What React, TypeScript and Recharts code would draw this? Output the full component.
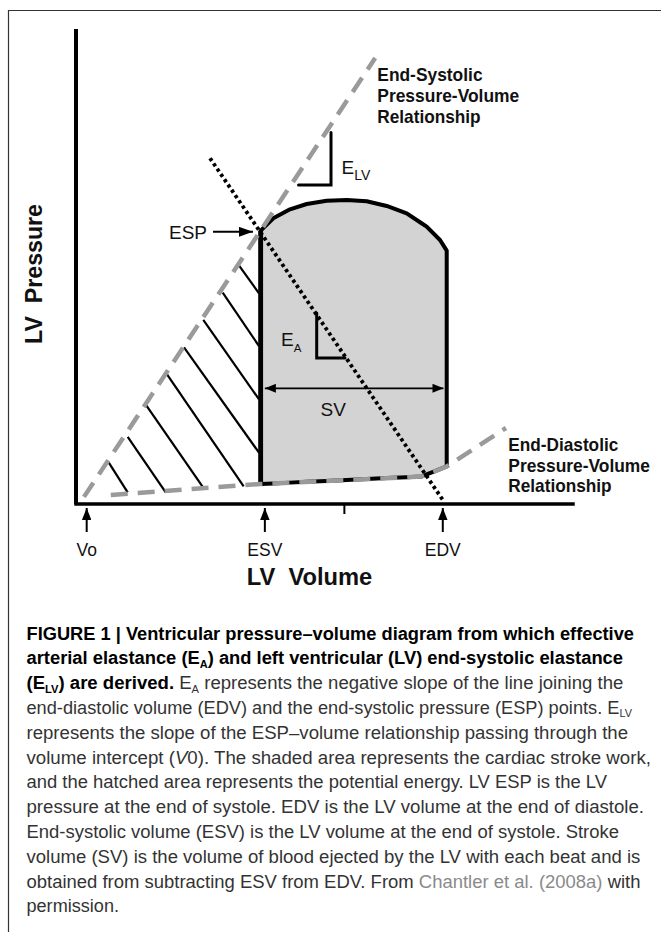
import React from 'react';
import {
  ComposedChart,
  XAxis,
  YAxis,
  Area,
  Line,
  ReferenceLine,
  ReferenceDot,
} from 'recharts';

// LV volume (v) and LV pressure (p), arbitrary units on 0-100 scales

// pressure-volume loop: top (ejection arc) and bottom (filling) per volume
const loopV = [37.16, 39.7, 43.06, 46.42, 50.44, 54.47, 58.49, 62.52, 66.54, 69.53, 70.56, 73.24, 74.59];
const loopTop = [57.54, 60.15, 62.04, 63.16, 63.85, 64.0, 63.73, 62.74, 61.2, 59.1, 58.38, 55.58, 53.33];
const loopBottom = [4.21, 4.34, 4.5, 4.67, 4.86, 5.06, 5.26, 5.45, 5.65, 5.79, 6.22, 7.34, 7.9];

// end-systolic and end-diastolic pressure-volume relationships
const espvrV = [1.6, 60.2];
const espvrP = [1.5, 93.9];
const edpvrV = [7.0, 37.16, 69.53, 74.59, 86.52];
const edpvrP = [1.9, 4.21, 5.79, 7.9, 16.0];

// arterial elastance line (ESP -> EDV)
const eaLineV = [26.96, 74.04];
const eaLineP = [72.8, 0.5];

// slope brackets
const eaBracketV = [48.43, 48.43, 54.12];
const eaBracketP = [40.21, 30.74, 30.74];
const elvBracketV = [44.77, 51.31, 51.31];
const elvBracketP = [67.16, 67.16, 78.21];

// hatching of the potential-energy triangle
const hatchV1 = [32.86, 29.52, 25.61, 21.73, 18.21, 14.14, 10.4, 6.6];
const hatchP1 = [50.11, 44.48, 38.74, 32.99, 27.43, 20.78, 14.11, 8.72];
const hatchV2 = [36.82, 36.82, 36.82, 36.82, 33.74, 25.43, 18.05, 10.4];
const hatchP2 = [44.36, 33.26, 22.04, 10.8, 3.71, 3.71, 2.46, 2.46];

// stroke volume arrow and ESP arrow
const svArrowV = [38.0, 73.94];
const svArrowP = 24.36;
const espArrowV = [27.57, 35.61];
const espArrowP = 57.3;

// axes
const volumeTicks = [2.15, 38.0, 54.0, 73.8];
const volumeTickLabels = ['Vo', 'ESV', '', 'EDV'];
const pressureTicks = [23.7, 48.9, 73.3];

// text anchors
const espLabel = { v: 26.36, p: 55.89 };
const svLabel = { v: 51.77, p: 18.53 };
const eaLabel = { v: 41.25, p: 33.16 };
const elvLabel = { v: 53.42, p: 69.47 };
const esLabelV = 60.62;
const esLabelP = [89.05, 84.69, 80.27];
const edLabelV = 86.98;
const edLabelP = [11.26, 6.84, 2.53];
const relLines = ['Pressure-Volume', 'Relationship'];

const FONT = "'Liberation Sans', Arial, Helvetica, sans-serif";
const GRAY = '#9a9a9a';

const pts = (vs: number[], ps: number[]) => vs.map((v, i) => ({ v, p: ps[i] }));

const textShape =
  (content: React.ReactNode, anchor: 'start' | 'middle' | 'end', size: number, weight = 400, len?: number) =>
  (p: any) => (
    <text
      x={p.cx}
      y={p.cy}
      textAnchor={anchor}
      fontSize={size}
      fontWeight={weight}
      fontFamily={FONT}
      fill="#111"
      textLength={len}
      lengthAdjust={len ? 'spacingAndGlyphs' : undefined}
    >
      {content}
    </text>
  );

const VolumeTick = (props: any) => {
  const { x, y, payload } = props;
  const label = volumeTickLabels[volumeTicks.indexOf(payload.value)];
  if (!label) {
    return <line x1={x} x2={x} y1={y} y2={y + 10} stroke="#000" strokeWidth={2} />;
  }
  return (
    <g>
      <line x1={x} x2={x} y1={y + 28} y2={y + 4} stroke="#000" strokeWidth={2} markerEnd="url(#headTick)" />
      <text x={x} y={y + 52} textAnchor="middle" fontSize={17.5} fontFamily={FONT} fill="#111">
        {label}
      </text>
    </g>
  );
};

const capWidths = [607.5, 596.5, 596.8, 605.5, 601.5, 624.5, 580.5, 617.5, 592.5, 613.8, 614, 92.5];

export default function App() {
  const loopFill = loopV.map((v, i) => ({ v, range: [loopBottom[i], loopTop[i]] }));
  const outline = [
    { v: loopV[0], p: loopBottom[0] },
    ...pts(loopV, loopTop),
    ...pts(loopV, loopBottom).reverse(),
  ];
  const esvLine = [
    { v: loopV[0], p: loopBottom[0] },
    { v: loopV[0], p: loopTop[0] },
  ];

  const capLines: React.ReactNode[] = [
    <tspan fontWeight={700} fill="#000">FIGURE 1 | Ventricular pressure–volume diagram from which effective</tspan>,
    <tspan fontWeight={700} fill="#000">
      arterial elastance (E<tspan dy={3.5} fontSize={10.5}>A</tspan>
      <tspan dy={-3.5}>) and left ventricular (LV) end-systolic elastance</tspan>
    </tspan>,
    <>
      <tspan fontWeight={700} fill="#000">
        (E<tspan dy={3.5} fontSize={10.5}>LV</tspan>
        <tspan dy={-3.5}>) are derived.</tspan>
      </tspan>
      <tspan> E</tspan>
      <tspan dy={3.5} fontSize={10.5}>A</tspan>
      <tspan dy={-3.5}> represents the negative slope of the line joining the</tspan>
    </>,
    <>
      <tspan>end-diastolic volume (EDV) and the end-systolic pressure (ESP) points. E</tspan>
      <tspan dy={3.5} fontSize={10.5}>LV</tspan>
    </>,
    <tspan>represents the slope of the ESP–volume relationship passing through the</tspan>,
    <>
      <tspan>volume intercept (</tspan>
      <tspan fontStyle="italic">V</tspan>
      <tspan>0). The shaded area represents the cardiac stroke work,</tspan>
    </>,
    <tspan>and the hatched area represents the potential energy. LV ESP is the LV</tspan>,
    <tspan>pressure at the end of systole. EDV is the LV volume at the end of diastole.</tspan>,
    <tspan>End-systolic volume (ESV) is the LV volume at the end of systole. Stroke</tspan>,
    <tspan>volume (SV) is the volume of blood ejected by the LV with each beat and is</tspan>,
    <>
      <tspan>obtained from subtracting ESV from EDV. From </tspan>
      <tspan fill="#8a8a8a">Chantler et al. (2008a)</tspan>
      <tspan> with</tspan>
    </>,
    <tspan>permission.</tspan>,
  ];

  return (
    <div style={{ position: 'absolute', left: 0, top: 0, width: 661, height: 932, background: '#fff' }}>
      <div style={{ position: 'absolute', left: 0, top: 0 }}>
        <ComposedChart width={661} height={600} margin={{ top: 29, right: 88, bottom: 0, left: 0 }}>
          <XAxis
            type="number"
            dataKey="v"
            domain={[0, 100]}
            ticks={volumeTicks}
            interval={0}
            tickSize={0}
            tickMargin={0}
            tickLine={false}
            tick={(p: any) => <VolumeTick {...p} />}
            axisLine={{ stroke: '#000', strokeWidth: 3.5, strokeLinecap: 'square' }}
            height={96}
            allowDataOverflow
          />
          <YAxis
            type="number"
            dataKey="p"
            domain={[0, 100]}
            ticks={pressureTicks}
            tickSize={13}
            tick={false}
            tickLine={{ stroke: '#000', strokeWidth: 2.5 }}
            axisLine={{ stroke: '#000', strokeWidth: 4 }}
            width={76}
            allowDataOverflow
          />
          <Area
            data={loopFill}
            dataKey="range"
            type="linear"
            fill="#d3d3d3"
            fillOpacity={1}
            stroke="none"
            isAnimationActive={false}
          />
          {hatchV1.map((v, i) => (
            <ReferenceLine
              key={`h${i}`}
              segment={[
                { x: v, y: hatchP1[i] },
                { x: hatchV2[i], y: hatchP2[i] },
              ]}
              stroke="#000"
              strokeWidth={2.2}
              ifOverflow="visible"
            />
          ))}
          <Line
            data={outline}
            dataKey="p"
            type="linear"
            stroke="#000"
            strokeWidth={4}
            strokeLinejoin="round"
            dot={false}
            activeDot={false}
            isAnimationActive={false}
          />
          <Line
            data={esvLine}
            dataKey="p"
            type="linear"
            stroke="#000"
            strokeWidth={4.8}
            dot={false}
            activeDot={false}
            isAnimationActive={false}
          />
          <Line
            data={pts(espvrV, espvrP)}
            dataKey="p"
            type="linear"
            stroke={GRAY}
            strokeWidth={4.5}
            strokeDasharray="17 10"
            dot={false}
            activeDot={false}
            isAnimationActive={false}
          />
          <Line
            data={pts(edpvrV, edpvrP)}
            dataKey="p"
            type="linear"
            stroke={GRAY}
            strokeWidth={4.5}
            strokeDasharray="17 10"
            dot={false}
            activeDot={false}
            isAnimationActive={false}
          />
          <Line
            data={pts(eaLineV, eaLineP)}
            dataKey="p"
            type="linear"
            stroke="#000"
            strokeWidth={3.8}
            strokeDasharray="3.3 3.1"
            dot={false}
            activeDot={false}
            isAnimationActive={false}
          />
          <Line
            data={pts(eaBracketV, eaBracketP)}
            dataKey="p"
            type="linear"
            stroke="#000"
            strokeWidth={3}
            strokeLinecap="round"
            dot={false}
            activeDot={false}
            isAnimationActive={false}
          />
          <Line
            data={pts(elvBracketV, elvBracketP)}
            dataKey="p"
            type="linear"
            stroke="#000"
            strokeWidth={3}
            strokeLinecap="round"
            dot={false}
            activeDot={false}
            isAnimationActive={false}
          />
          <ReferenceLine
            segment={[
              { x: svArrowV[0], y: svArrowP },
              { x: svArrowV[1], y: svArrowP },
            ]}
            stroke="#000"
            strokeWidth={1.8}
            markerStart="url(#headSmall)"
            markerEnd="url(#headSmall)"
            ifOverflow="visible"
          />
          <ReferenceLine
            segment={[
              { x: espArrowV[0], y: espArrowP },
              { x: espArrowV[1], y: espArrowP },
            ]}
            stroke="#000"
            strokeWidth={2}
            markerEnd="url(#headBig)"
            ifOverflow="visible"
          />
          <ReferenceDot x={espLabel.v} y={espLabel.p} r={0} ifOverflow="visible" shape={textShape('ESP', 'end', 19)} />
          <ReferenceDot x={svLabel.v} y={svLabel.p} r={0} ifOverflow="visible" shape={textShape('SV', 'middle', 19)} />
          <ReferenceDot
            x={eaLabel.v}
            y={eaLabel.p}
            r={0}
            ifOverflow="visible"
            shape={textShape(
              <>
                <tspan>E</tspan>
                <tspan dy={5.5} fontSize={11.5}>A</tspan>
              </>,
              'start',
              19
            )}
          />
          <ReferenceDot
            x={elvLabel.v}
            y={elvLabel.p}
            r={0}
            ifOverflow="visible"
            shape={textShape(
              <>
                <tspan>E</tspan>
                <tspan dy={6} fontSize={14}>LV</tspan>
              </>,
              'start',
              19
            )}
          />
          {['End-Systolic', ...relLines].map((s, i) => (
            <ReferenceDot
              key={`es${i}`}
              x={esLabelV}
              y={esLabelP[i]}
              r={0}
              ifOverflow="visible"
              shape={textShape(s, 'start', 18.5, 700, [105.3, 142, 103.3][i])}
            />
          ))}
          {['End-Diastolic', ...relLines].map((s, i) => (
            <ReferenceDot
              key={`ed${i}`}
              x={edLabelV}
              y={edLabelP[i]}
              r={0}
              ifOverflow="visible"
              shape={textShape(s, 'start', 18.5, 700, [110, 141.7, 103.3][i])}
            />
          ))}
        </ComposedChart>
      </div>
      <svg
        width={661}
        height={932}
        style={{ position: 'absolute', left: 0, top: 0, pointerEvents: 'none' }}
      >
        <defs>
          <marker
            id="headSmall"
            viewBox="0 0 10 10"
            refX="10"
            refY="5"
            markerWidth="11"
            markerHeight="9"
            markerUnits="userSpaceOnUse"
            preserveAspectRatio="none"
            orient="auto-start-reverse"
          >
            <path d="M0,0 L10,5 L0,10 Z" fill="#000" />
          </marker>
          <marker
            id="headTick"
            viewBox="0 0 10 10"
            refX="10"
            refY="5"
            markerWidth="12"
            markerHeight="9.5"
            markerUnits="userSpaceOnUse"
            preserveAspectRatio="none"
            orient="auto-start-reverse"
          >
            <path d="M0,0 L10,5 L0,10 Z" fill="#000" />
          </marker>
          <marker
            id="headBig"
            viewBox="0 0 10 10"
            refX="10"
            refY="5"
            markerWidth="14"
            markerHeight="10"
            markerUnits="userSpaceOnUse"
            preserveAspectRatio="none"
            orient="auto-start-reverse"
          >
            <path d="M0,0 L10,5 L0,10 Z" fill="#000" />
          </marker>
        </defs>
        <path d="M8.5,932 V10.5 H661" fill="none" stroke="#333" strokeWidth={1.2} />
        <text
          x={309.5}
          y={585}
          textAnchor="middle"
          fontSize={23}
          fontWeight={700}
          fontFamily={FONT}
          fill="#111"
          textLength={125.5}
          lengthAdjust="spacingAndGlyphs"
          style={{ whiteSpace: 'pre' }}
        >
          {'LV  Volume'}
        </text>
        <text
          transform="translate(42,274) rotate(-90)"
          textAnchor="middle"
          fontSize={23}
          fontWeight={700}
          fontFamily={FONT}
          fill="#111"
          textLength={140}
          lengthAdjust="spacingAndGlyphs"
          style={{ whiteSpace: 'pre' }}
        >
          {'LV  Pressure'}
        </text>
        {capLines.map((content, i) => (
          <text
            key={`c${i}`}
            x={26.5}
            y={639.5 + 24.8 * i}
            fontSize={17.5}
            fontFamily={FONT}
            fill="#333"
            textLength={capWidths[i]}
            lengthAdjust="spacingAndGlyphs"
          >
            {content}
          </text>
        ))}
      </svg>
    </div>
  );
}
